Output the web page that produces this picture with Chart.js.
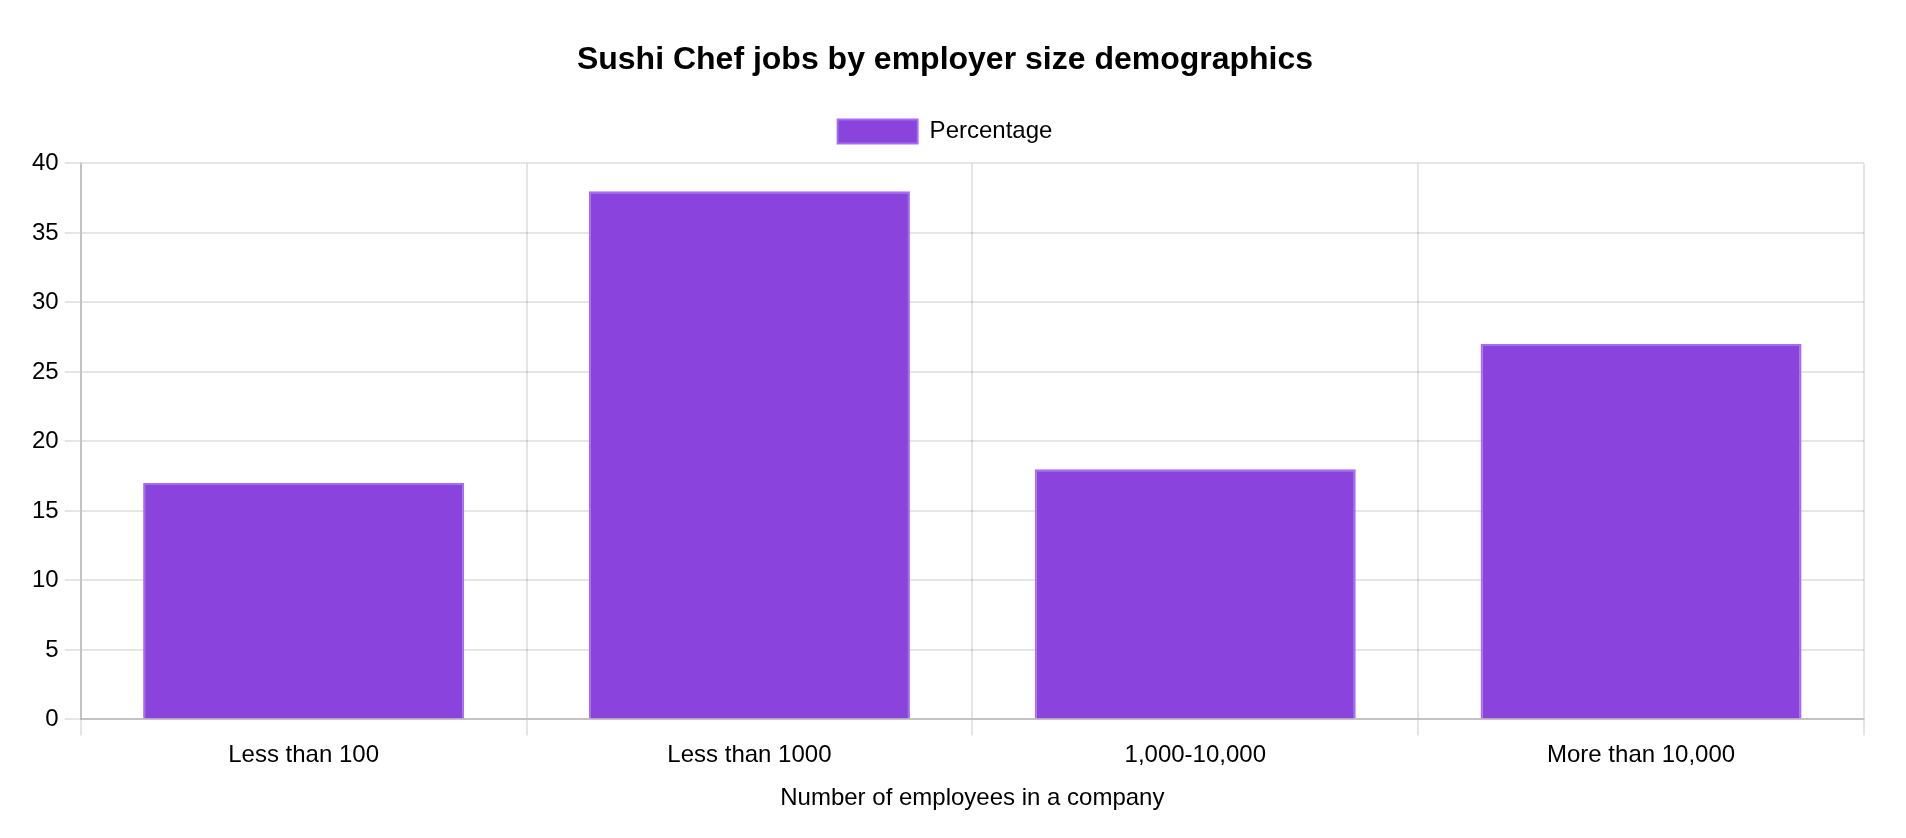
<!DOCTYPE html>
<html>
<head>
<meta charset="utf-8">
<title>Sushi Chef jobs by employer size demographics</title>
<script src="https://cdn.jsdelivr.net/npm/chart.js@4"></script>
<style>
    html, body { margin: 0; padding: 0; background: #fff; }
    #wrap { width: 1906px; height: 838px; }
</style>
</head>
<body>
<div id="wrap"><canvas id="sizeChart"></canvas></div>
<script>
// Chart data
const categories = ['Less than 100', 'Less than 1000', '1,000-10,000', 'More than 10,000'];
const percentages = [17, 38, 18, 27];
const yTicks = [0, 5, 10, 15, 20, 25, 30, 35, 40];

Chart.defaults.font.family = '"Liberation Sans", Arial, Helvetica, sans-serif';
Chart.defaults.font.size = 24;
Chart.defaults.color = '#000';

const gridColor = 'rgba(0, 0, 0, 0.1)';

// Leave a bit more room under the legend
const legendSpacer = {
    id: 'legendSpacer',
    beforeInit(chart) {
        const fitLegend = chart.legend.fit;
        chart.legend.fit = function() {
            fitLegend.bind(chart.legend)();
            this.height += 10;
        };
    }
};

const ctx = document.getElementById('sizeChart').getContext('2d');
const sizeChart = new Chart(ctx, {
    type: 'bar',
    data: {
        labels: categories,
        datasets: [{
            label: 'Percentage',
            data: percentages,
            backgroundColor: '#8a43dd',
            borderColor: '#a56df0',
            borderWidth: 2
        }]
    },
    options: {
        responsive: true,
        maintainAspectRatio: false,
        animation: false,
        devicePixelRatio: 1,
        layout: {
            padding: { top: 21, left: 26, right: 42, bottom: 17 }
        },
        scales: {
            x: {
                grid: { color: gridColor, lineWidth: 2, tickLength: 16 },
                border: { color: 'rgba(0, 0, 0, 0.15)', width: 2 },
                ticks: { padding: 6 },
                title: {
                    display: true,
                    text: 'Number of employees in a company',
                    padding: { top: 8, bottom: 8 }
                }
            },
            y: {
                min: yTicks[0],
                max: yTicks[yTicks.length - 1],
                grid: { color: gridColor, lineWidth: 2, tickLength: 16 },
                border: { color: 'rgba(0, 0, 0, 0.15)', width: 2 },
                afterBuildTicks: function(axis) {
                    axis.ticks = yTicks.map(v => ({ value: v }));
                },
                ticks: { padding: 6 }
            }
        },
        plugins: {
            title: {
                display: true,
                text: 'Sushi Chef jobs by employer size demographics',
                font: { size: 32, weight: 'bold' },
                padding: 20
            },
            legend: {
                position: 'top',
                labels: { boxWidth: 80, boxHeight: 24, padding: 20 }
            },
            tooltip: { enabled: false }
        }
    },
    plugins: [legendSpacer]
});
</script>
</body>
</html>
